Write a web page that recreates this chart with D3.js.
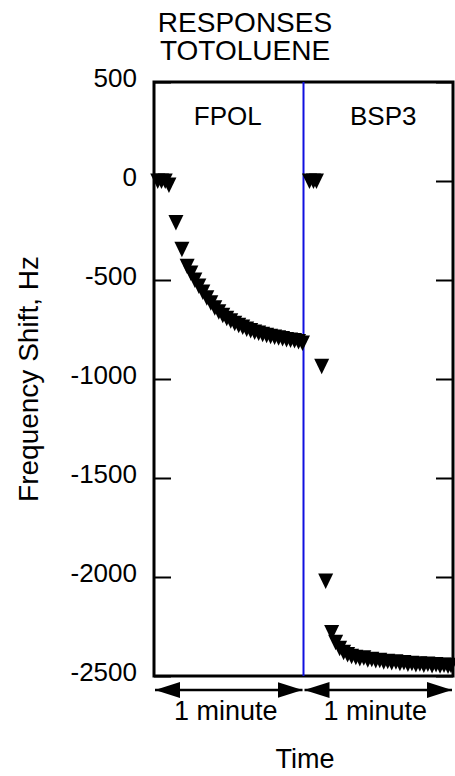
<!DOCTYPE html>
<html>
<head>
<meta charset="utf-8">
<script src="https://cdn.jsdelivr.net/npm/d3@7"></script>
<style>
  body { margin: 0; background: #fff; }
  text { font-family: "Liberation Sans", Arial, Helvetica, sans-serif; fill: #000; }
</style>
</head>
<body>
<div id="chart"></div>
<script>
// Data: time in seconds, frequency shift in Hz
let fpol_time = [1.5, 3.0, 4.5, 6.0, 8.8, 11.2, 13.3, 14.8, 16.4, 18.0, 19.6, 21.2, 22.8, 24.4,
    26.0, 27.6, 29.2, 30.8, 32.4, 34.0, 35.6, 37.2, 38.8, 40.4, 42.0, 43.6, 45.2, 46.8, 48.4,
    50.0, 51.6, 53.2, 54.8, 56.4, 58.0, 59.6];
let fpol_shift = [0, 0, 0, -20, -210, -345, -430, -465, -500, -530, -560, -590, -615, -640,
    -660, -678, -693, -706, -718, -728, -738, -747, -755, -762, -768, -774, -779, -784, -788,
    -792, -796, -800, -803, -806, -810, -818];

let bsp3_time = [62.4, 64.0, 65.2, 67.3, 68.9, 71.3, 72.9, 74.5, 76.1, 77.7, 79.3, 81.0, 82.6,
    84.2, 85.8, 87.4, 89.0, 90.6, 92.2, 93.8, 95.4, 97.1, 98.7, 100.3, 101.9, 103.5, 105.1,
    106.7, 108.3, 109.9, 111.6, 113.2, 114.8, 116.4, 118.0, 119.2];
let bsp3_shift = [0, 0, 0, -935, -2020, -2280, -2330, -2360, -2380, -2392, -2400, -2405, -2412,
    -2408, -2418, -2415, -2422, -2420, -2428, -2425, -2432, -2428, -2436, -2432, -2440, -2436,
    -2442, -2438, -2445, -2440, -2447, -2442, -2448, -2444, -2450, -2446];

let y_ticks = [500, 0, -500, -1000, -1500, -2000, -2500];
let sensor_labels = ["FPOL", "BSP3"];
let title_lines = ["RESPONSES", "TOTOLUENE"];
let switch_time = 60;

let container_width = 455;
let container_height = 776;

let svg = d3.select("#chart")
    .append("svg")
    .attr("width", container_width)
    .attr("height", container_height);

let margin = { top: 82, left: 154, bottom: 100, right: 2 };
let width = container_width - margin.left - margin.right;
let height = 676 - margin.top;

let g = svg.append('g')
    .attr("transform", `translate(${margin.left}, ${margin.top})`);

/* Scales */
let xScale = d3.scaleLinear()
    .domain([0, 120])
    .range([0, width]);

let yScale = d3.scaleLinear()
    .domain([-2500, 500])
    .range([height, 0]);

/* Title */
svg.append("text")
    .attr("text-anchor", "middle")
    .attr("font-size", "28px")
    .selectAll("tspan")
    .data(title_lines)
    .enter()
    .append("tspan")
    .attr('x', 245)
    .attr('y', (d, i) => 32 + i * 28)
    .text(d => d);

/* Ticks on both sides, pointing inward */
let yAxisLeft = d3.axisRight(yScale).tickValues(y_ticks).tickSize(17).tickFormat("");
let yAxisRight = d3.axisLeft(yScale).tickValues(y_ticks).tickSize(17).tickFormat("");

g.append('g').call(yAxisLeft)
    .call(a => a.select(".domain").remove())
    .selectAll("line").attr("stroke", "#000").attr("stroke-width", 2);
g.append('g').attr("transform", `translate(${width}, 0)`).call(yAxisRight)
    .call(a => a.select(".domain").remove())
    .selectAll("line").attr("stroke", "#000").attr("stroke-width", 2);

/* Tick labels */
g.selectAll(".ylabel")
    .data(y_ticks)
    .enter()
    .append("text")
    .attr("class", "ylabel")
    .attr('x', -17)
    .attr('y', d => yScale(d) + 5)
    .attr("text-anchor", "end")
    .attr("font-size", "26px")
    .text(d => d);

/* Frame */
g.append("rect")
    .attr('x', 0)
    .attr('y', 0)
    .attr("width", width)
    .attr("height", height)
    .attr("fill", "none")
    .attr("stroke", "#000")
    .attr("stroke-width", 3);

/* Sensor switch line */
g.append("line")
    .attr("x1", xScale(switch_time)).attr("y1", 0)
    .attr("x2", xScale(switch_time)).attr("y2", height)
    .attr("stroke", "#1010e0")
    .attr("stroke-width", 2);

g.selectAll(".sensor")
    .data(sensor_labels)
    .enter()
    .append("text")
    .attr("class", "sensor")
    .attr('x', (d, i) => xScale(switch_time * i + switch_time / 2) + (i === 0 ? -1 : 5))
    .attr('y', 43)
    .attr("text-anchor", "middle")
    .attr("font-size", "26px")
    .text(d => d);

/* Markers: filled downward triangles */
let marker = "M-7.5,-7.5L7.5,-7.5L0,8Z";
let points = fpol_time.map((t, i) => [t, fpol_shift[i]])
    .concat(bsp3_time.map((t, i) => [t, bsp3_shift[i]]));

g.selectAll(".pt")
    .data(points)
    .enter()
    .append("path")
    .attr("class", "pt")
    .attr('d', marker)
    .attr("transform", d => `translate(${xScale(d[0])}, ${yScale(d[1])})`)
    .attr("fill", "#000");

/* Time arrows under the plot */
let defs = svg.append("defs");
defs.append("marker")
    .attr("id", "head")
    .attr("viewBox", "0 0 25 16")
    .attr("refX", 25)
    .attr("refY", 8)
    .attr("markerWidth", 25)
    .attr("markerHeight", 16)
    .attr("markerUnits", "userSpaceOnUse")
    .attr("orient", "auto-start-reverse")
    .append("path")
    .attr('d', "M0,0L25,8L0,16Z")
    .attr("fill", "#000");

let spans = [[0, switch_time], [switch_time, 120]];
g.selectAll(".span")
    .data(spans)
    .enter()
    .append("line")
    .attr("class", "span")
    .attr("x1", d => xScale(d[0]) + 1)
    .attr("x2", d => xScale(d[1]) - 1)
    .attr("y1", height + 14)
    .attr("y2", height + 14)
    .attr("stroke", "#000")
    .attr("stroke-width", 2.5)
    .attr("marker-start", "url(#head)")
    .attr("marker-end", "url(#head)");

g.selectAll(".spanlabel")
    .data(spans)
    .enter()
    .append("text")
    .attr("class", "spanlabel")
    .attr('x', d => xScale((d[0] + d[1]) / 2) - 3)
    .attr('y', height + 44)
    .attr("text-anchor", "middle")
    .attr("font-size", "27px")
    .text("1 minute");

/* Axis titles */
svg.append("text")
    .attr('x', 305)
    .attr('y', 768)
    .attr("text-anchor", "middle")
    .attr("font-size", "27px")
    .text("Time");

svg.append("text")
    .attr("transform", `translate(38, ${margin.top + height / 2}) rotate(-90)`)
    .attr("text-anchor", "middle")
    .attr("font-size", "28px")
    .text("Frequency Shift, Hz");
</script>
</body>
</html>
